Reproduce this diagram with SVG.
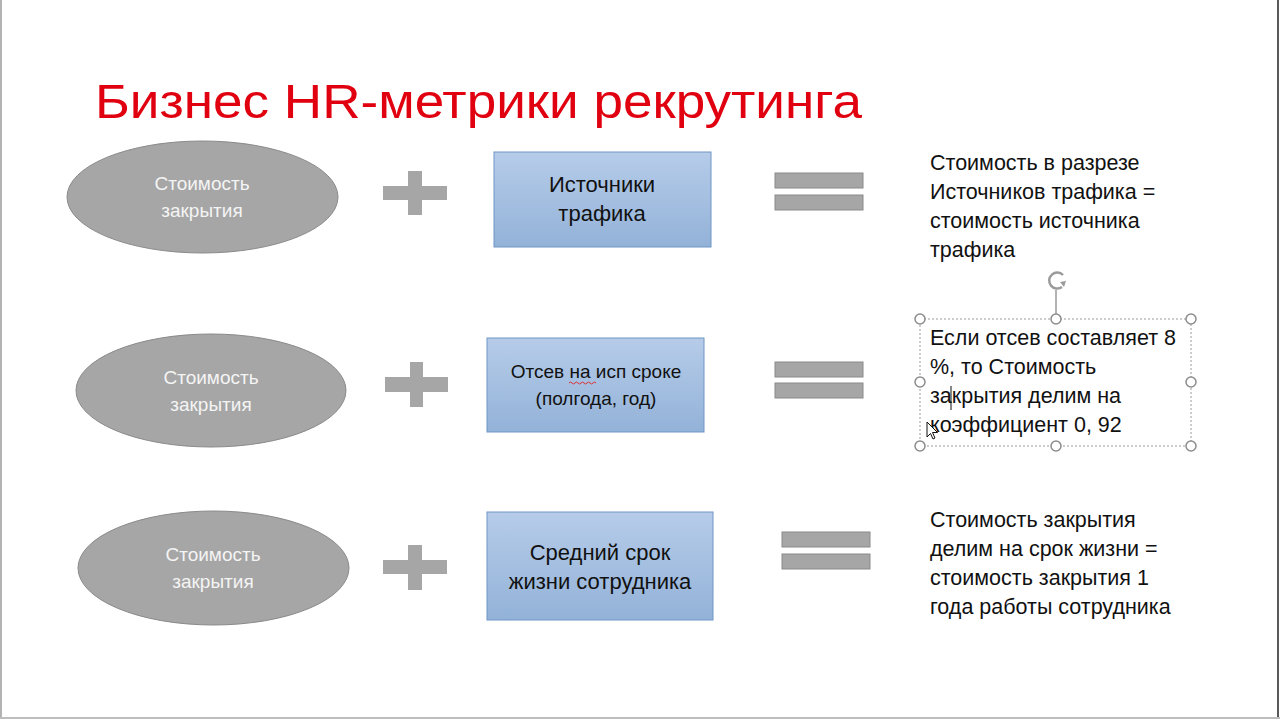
<svg xmlns="http://www.w3.org/2000/svg" width="1280" height="720" viewBox="0 0 1280 720">
  <defs>
    <linearGradient id="blueGrad" x1="0" y1="0" x2="0" y2="1">
      <stop offset="0" stop-color="#b6cce9"/>
      <stop offset="1" stop-color="#93b2d8"/>
    </linearGradient>
    <style>
      .ell { fill: #a6a6a6; stroke: #8a8a8a; stroke-width: 1; }
      .ellText { font-family: "Liberation Sans", Arial, sans-serif; font-size: 19px; fill: #f4f4f4; text-anchor: middle; }
      .box { fill: url(#blueGrad); stroke: #6f95c6; stroke-width: 1; }
      .boxText { font-family: "Liberation Sans", Arial, sans-serif; font-size: 22px; fill: #111; text-anchor: middle; }
      .boxTextS { font-family: "Liberation Sans", Arial, sans-serif; font-size: 19px; fill: #111; text-anchor: middle; }
      .op { fill: #a6a6a6; }
      .eq { fill: #a6a6a6; stroke: #8a8a8a; stroke-width: 1; }
      .res { font-family: "Liberation Sans", Arial, sans-serif; font-size: 21.5px; fill: #111; }
      .title { font-family: "Liberation Sans", Arial, sans-serif; font-size: 49px; fill: #e0000f; }
      .handle { fill: #ffffff; stroke: #8c8c8c; stroke-width: 1.5; }
    </style>
  </defs>

  <rect x="0" y="0" width="1280" height="720" fill="#ffffff"/>
  <line x1="1" y1="0" x2="1" y2="718" stroke="#9a9a9a" stroke-width="1.5"/>
  <line x1="1278" y1="0" x2="1278" y2="718" stroke="#222" stroke-width="1.5"/>
  <line x1="0" y1="718" x2="1280" y2="718" stroke="#bdbdbd" stroke-width="2"/>

  <text class="title" x="95" y="118" textLength="767" lengthAdjust="spacingAndGlyphs">Бизнес HR-метрики рекрутинга</text>

  <!-- Row 1 -->
  <g id="ellipse1">
    <ellipse class="ell" cx="202.5" cy="197" rx="135.5" ry="56"/>
    <text class="ellText" x="202" y="190">Стоимость</text>
    <text class="ellText" x="202" y="217">закрытия</text>
  </g>
  <g id="plus1">
    <rect class="op" x="383" y="186" width="64" height="14"/>
    <rect class="op" x="408" y="171" width="14" height="44"/>
  </g>
  <g id="box1">
    <rect class="box" x="494" y="152" width="217" height="95"/>
    <text class="boxText" x="602" y="192">Источники</text>
    <text class="boxText" x="602" y="221">трафика</text>
  </g>
  <g id="equals1">
    <rect class="eq" x="775" y="173" width="88" height="15"/>
    <rect class="eq" x="775" y="195" width="88" height="15"/>
  </g>
  <g id="result1">
    <text class="res" x="930" y="170">Стоимость в разрезе</text>
    <text class="res" x="930" y="199">Источников трафика =</text>
    <text class="res" x="930" y="228">стоимость источника</text>
    <text class="res" x="930" y="257">трафика</text>
  </g>

  <!-- Row 2 -->
  <g id="ellipse2">
    <ellipse class="ell" cx="211" cy="390.5" rx="135" ry="56.5"/>
    <text class="ellText" x="211" y="384">Стоимость</text>
    <text class="ellText" x="211" y="411">закрытия</text>
  </g>
  <g id="plus2">
    <rect class="op" x="385" y="377" width="63" height="15"/>
    <rect class="op" x="410" y="362" width="13" height="45"/>
  </g>
  <g id="box2">
    <rect class="box" x="487" y="338" width="217" height="94"/>
    <text class="boxTextS" x="596" y="378">Отсев на исп сроке</text>
    <text class="boxTextS" x="596" y="405">(полгода, год)</text>
    <path d="M569 383 q1.5 -2 3 0 t3 0 t3 0 t3 0 t3 0 t3 0 t3 0 t3 0 t3 0" fill="none" stroke="#e03030" stroke-width="1"/>
  </g>
  <g id="equals2">
    <rect class="eq" x="775" y="362" width="88" height="15"/>
    <rect class="eq" x="775" y="383" width="88" height="15"/>
  </g>
  <g id="result2">
    <rect x="920" y="319" width="271" height="127" fill="none" stroke="#9a9a9a" stroke-width="1" stroke-dasharray="2,2"/>
    <line x1="1056" y1="290" x2="1056" y2="319" stroke="#9a9a9a" stroke-width="1.5"/>
    <path d="M1063 275 A8 8 0 1 0 1062 287" fill="none" stroke="#9a9a9a" stroke-width="2.5"/>
    <path d="M1066 281 l-6 1 l4 5 z" fill="#9a9a9a"/>
    <circle class="handle" cx="920" cy="319" r="5"/>
    <circle class="handle" cx="1056" cy="319" r="5"/>
    <circle class="handle" cx="1191" cy="319" r="5"/>
    <circle class="handle" cx="920" cy="382" r="5"/>
    <circle class="handle" cx="1191" cy="382" r="5"/>
    <circle class="handle" cx="920" cy="446" r="5"/>
    <circle class="handle" cx="1056" cy="446" r="5"/>
    <circle class="handle" cx="1191" cy="446" r="5"/>
    <text class="res" x="930" y="345">Если отсев составляет 8</text>
    <text class="res" x="930" y="374">%, то Стоимость</text>
    <text class="res" x="930" y="403">закрытия делим на</text>
    <text class="res" x="930" y="432">коэффициент 0, 92</text>
    <line x1="951" y1="386" x2="951" y2="410" stroke="#111" stroke-width="1"/>
    <path d="M927 422 l0 15 l3.5 -3.5 l2.5 5.5 l2 -1 l-2.5 -5.5 l5 0 z" fill="#ffffff" stroke="#111" stroke-width="1"/>
  </g>

  <!-- Row 3 -->
  <g id="ellipse3">
    <ellipse class="ell" cx="213.5" cy="568" rx="135.5" ry="57"/>
    <text class="ellText" x="213" y="561">Стоимость</text>
    <text class="ellText" x="213" y="588">закрытия</text>
  </g>
  <g id="plus3">
    <rect class="op" x="383" y="560" width="64" height="14"/>
    <rect class="op" x="408" y="545" width="14" height="45"/>
  </g>
  <g id="box3">
    <rect class="box" x="487" y="512" width="226" height="108"/>
    <text class="boxText" x="600" y="560">Средний срок</text>
    <text class="boxText" x="600" y="589">жизни сотрудника</text>
  </g>
  <g id="equals3">
    <rect class="eq" x="782" y="532" width="88" height="15"/>
    <rect class="eq" x="782" y="554" width="88" height="15"/>
  </g>
  <g id="result3">
    <text class="res" x="930" y="527">Стоимость закрытия</text>
    <text class="res" x="930" y="556">делим на срок жизни =</text>
    <text class="res" x="930" y="585">стоимость закрытия 1</text>
    <text class="res" x="930" y="614">года работы сотрудника</text>
  </g>

  <g id="connectors"></g>
</svg>
